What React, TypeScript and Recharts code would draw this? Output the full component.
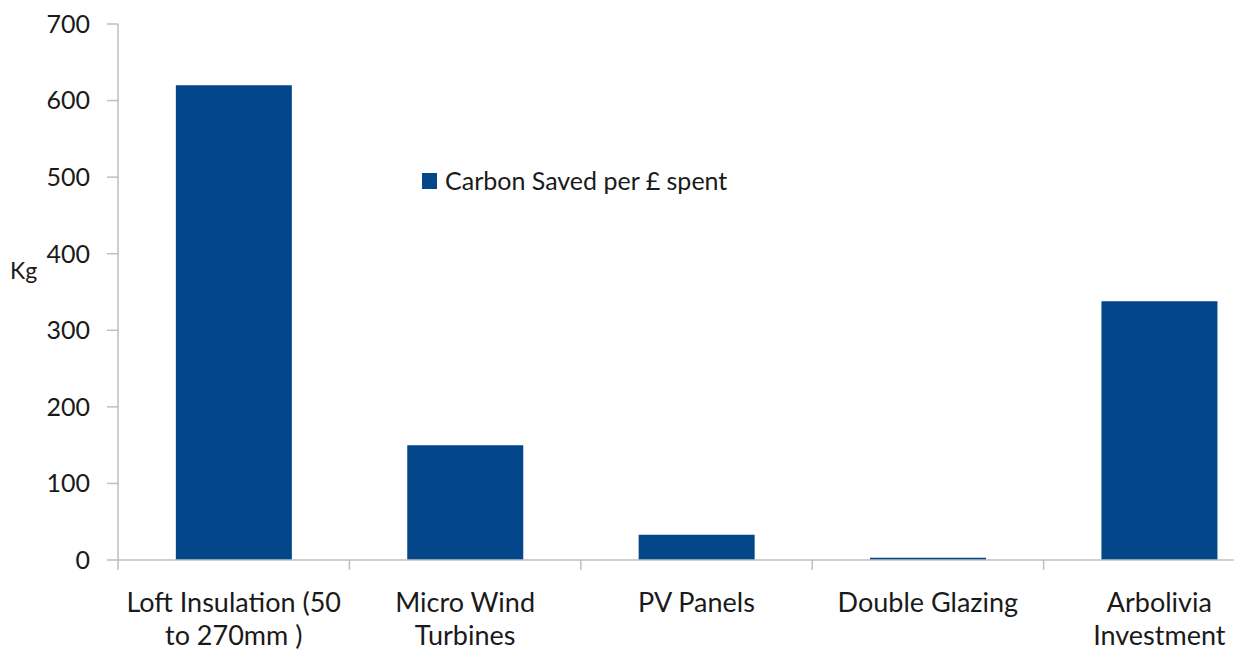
import { BarChart, Bar, XAxis, YAxis, Label } from "recharts";

const categories = [
    "Loft Insulation (50|to 270mm )",
    "Micro Wind|Turbines",
    "PV Panels",
    "Double Glazing",
    "Arbolivia|Investment"
];

const carbonSaved = [620, 150, 33, 3, 338];

const yTicks = [0, 100, 200, 300, 400, 500, 600, 700];

const SERIES_NAME = "Carbon Saved per £ spent";

const data = categories.map((c, i) => ({ name: c, value: carbonSaved[i] }));

const FONT = "Lato, 'Open Sans', sans-serif";
const AXIS = "#BFBFBF";
const BAR = "#03468A";
const TEXT = "#1a1a1a";

const PLOT_W = 1157;
const BAND = PLOT_W / categories.length;

function CategoryTick(props: any) {
    const { x, y, payload, index } = props;
    const lines = String(payload.value).split("|");
    return (
        <g>
            <line x1={x - BAND / 2} y1={y - 8} x2={x - BAND / 2} y2={y + 2} stroke={AXIS} strokeWidth={1.5} />
            {index === categories.length - 1 && (
                <line x1={x + BAND / 2} y1={y - 8} x2={x + BAND / 2} y2={y + 2} stroke={AXIS} strokeWidth={1.5} />
            )}
            <text x={x} y={y + 44} textAnchor="middle" fill={TEXT} fontSize={27} fontFamily={FONT}>
                {lines.map((l, i) => (
                    <tspan key={i} x={x} dy={i === 0 ? 0 : 33}>{l}</tspan>
                ))}
            </text>
        </g>
    );
}

function LegendBox() {
    return (
        <g>
            <rect x={422} y={173} width={15} height={16} fill={BAR} />
            <text x={445} y={190} fill={TEXT} fontSize={25} fontFamily={FONT}>{SERIES_NAME}</text>
        </g>
    );
}

export default function App() {
    return (
        <div style={{ position: "absolute", left: 0, top: 0, width: 1234, height: 653, overflow: "hidden", background: "#fff" }}>
            <BarChart
                width={118 + PLOT_W + 5}
                height={653}
                data={data}
                margin={{ top: 24, right: 5, left: 0, bottom: 0 }}
                barCategoryGap="25%"
            >
                <YAxis
                    width={118}
                    domain={[0, 700]}
                    ticks={yTicks}
                    interval={0}
                    stroke={AXIS}
                    strokeWidth={1.5}
                    tickSize={11}
                    tickMargin={17}
                    tick={{ fill: TEXT, fontSize: 25, fontFamily: FONT }}
                >
                    <Label
                        value="Kg"
                        position="insideLeft"
                        offset={10}
                        dy={-21}
                        fill={TEXT}
                        fontSize={23}
                        fontFamily={FONT}
                    />
                </YAxis>
                <XAxis
                    dataKey="name"
                    height={93}
                    interval={0}
                    stroke={AXIS}
                    strokeWidth={1.5}
                    tickLine={false}
                    tick={<CategoryTick />}
                />
                <Bar dataKey="value" name={SERIES_NAME} fill={BAR} isAnimationActive={false} />
                <LegendBox />
            </BarChart>
        </div>
    );
}
